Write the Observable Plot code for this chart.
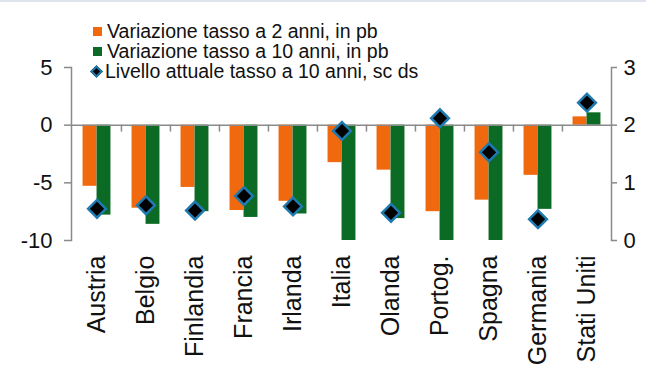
<!DOCTYPE html>
<html>
<head>
<meta charset="utf-8">
<script src="https://cdn.jsdelivr.net/npm/d3@7"></script>
<script src="https://cdn.jsdelivr.net/npm/@observablehq/plot@0.6"></script>
<style>
  html, body { margin: 0; padding: 0; background: #fff; }
  #wrap { position: relative; width: 646px; height: 368px; overflow: hidden; font-family: "Liberation Sans", Arial, sans-serif; }
  #topline { position: absolute; left: 0; top: 0; width: 646px; height: 2px; background: #dde4ec; }
  #legend { position: absolute; left: 91px; top: 21px; font-size: 19.5px; line-height: 20px; color: #111; }
  .row { display: flex; align-items: center; white-space: nowrap; }
  .sw { width: 9px; height: 9px; margin-right: 5px; margin-left: 2px; }
  .dm { width: 9px; height: 9px; background: #000; border: 2px solid #1f7ab0; transform: rotate(45deg); margin-right: 4px; margin-left: 1px; box-sizing: border-box; }
  svg { position: absolute; left: 0; top: 0; }
</style>
</head>
<body>
<div id="wrap">
  <div id="topline"></div>
  <div id="chart"></div>
  <div id="legend"></div>
</div>
<script>
const countries = ["Austria","Belgio","Finlandia","Francia","Irlanda","Italia","Olanda","Portog.","Spagna","Germania","Stati Uniti"];
const chg2y  = [-5.3, -7.2, -5.4, -7.4, -6.6, -3.25, -3.9, -7.5, -6.5, -4.35, 0.72];
const chg10y = [-7.8, -8.6, -7.5, -8.0, -7.7, -10, -8.1, -10, -10, -7.3, 1.07];
const level10y = [0.55, 0.61, 0.52, 0.77, 0.59, 1.90, 0.48, 2.12, 1.53, 0.37, 2.39];
const leftTicks = [-10, -5, 0, 5];
const rightTicks = [0, 1, 2, 3];
const seriesNames = ["Variazione tasso a 2 anni, in pb", "Variazione tasso a 10 anni, in pb", "Livello attuale tasso a 10 anni, sc ds"];
const colors = ["#f0690f", "#0b6b25"];

// right axis (0..3) mapped onto left axis (-10..5)
const toLeft = v => (v - 2) * 5;
const fromLeft = y => y / 5 + 2;

const rows = countries.map((c, i) => ({country: c, a: chg2y[i], b: chg10y[i], lvl: toLeft(level10y[i])}));

const W = 646, H = 368, mL = 71, mR = 35;
const halfBand = (W - mL - mR) / countries.length / 2;
const barW = 14;
const gray = "#8a8a8a";

const chart = Plot.plot({
  width: W, height: H,
  marginLeft: mL, marginRight: mR, marginTop: 67, marginBottom: 128,
  style: {fontFamily: "'Liberation Sans', Arial, sans-serif", color: "#111", background: "transparent"},
  x: {domain: countries, padding: 0},
  y: {domain: [-10, 5]},
  marks: [
    Plot.barY(rows, {x: "country", y: "a", fill: colors[0], insetLeft: halfBand - barW, insetRight: halfBand}),
    Plot.barY(rows, {x: "country", y: "b", fill: colors[1], insetLeft: halfBand, insetRight: halfBand - barW}),
    Plot.ruleY([0], {stroke: gray, strokeWidth: 1.5}),
    Plot.ruleX(countries.slice(1), {x: d => d, y1: 0, y2: -0.6, stroke: gray, strokeWidth: 1.5, dx: -halfBand}),
    Plot.frame({anchor: "left", stroke: gray, strokeWidth: 1.5}),
    Plot.frame({anchor: "right", stroke: gray, strokeWidth: 1.5}),
    Plot.axisY({anchor: "left", ticks: leftTicks, tickFormat: d => String(d), tickSize: 7, tickPadding: 12, fontSize: 22, stroke: gray, strokeWidth: 1.5, label: null}),
    Plot.axisY({anchor: "right", ticks: rightTicks.map(toLeft), tickFormat: d => String(fromLeft(d)), tickSize: 5, tickPadding: 7, fontSize: 22, stroke: gray, strokeWidth: 1.5, label: null}),
    Plot.axisX({anchor: "bottom", tickSize: 0, tickPadding: 15, tickRotate: -90, fontSize: 25, label: null}),
    Plot.dot(rows, {x: "country", y: "lvl", symbol: "diamond2", r: 8, fill: "#000", stroke: "#1f7ab0", strokeWidth: 2.5})
  ]
});
document.getElementById("chart").appendChild(chart);

const legend = document.getElementById("legend");
seriesNames.forEach((name, i) => {
  const row = document.createElement("div");
  row.className = "row";
  const sw = document.createElement("div");
  if (i < 2) { sw.className = "sw"; sw.style.background = colors[i]; }
  else { sw.className = "dm"; }
  row.appendChild(sw);
  const t = document.createElement("span");
  t.textContent = name;
  row.appendChild(t);
  legend.appendChild(row);
});
</script>
</body>
</html>
